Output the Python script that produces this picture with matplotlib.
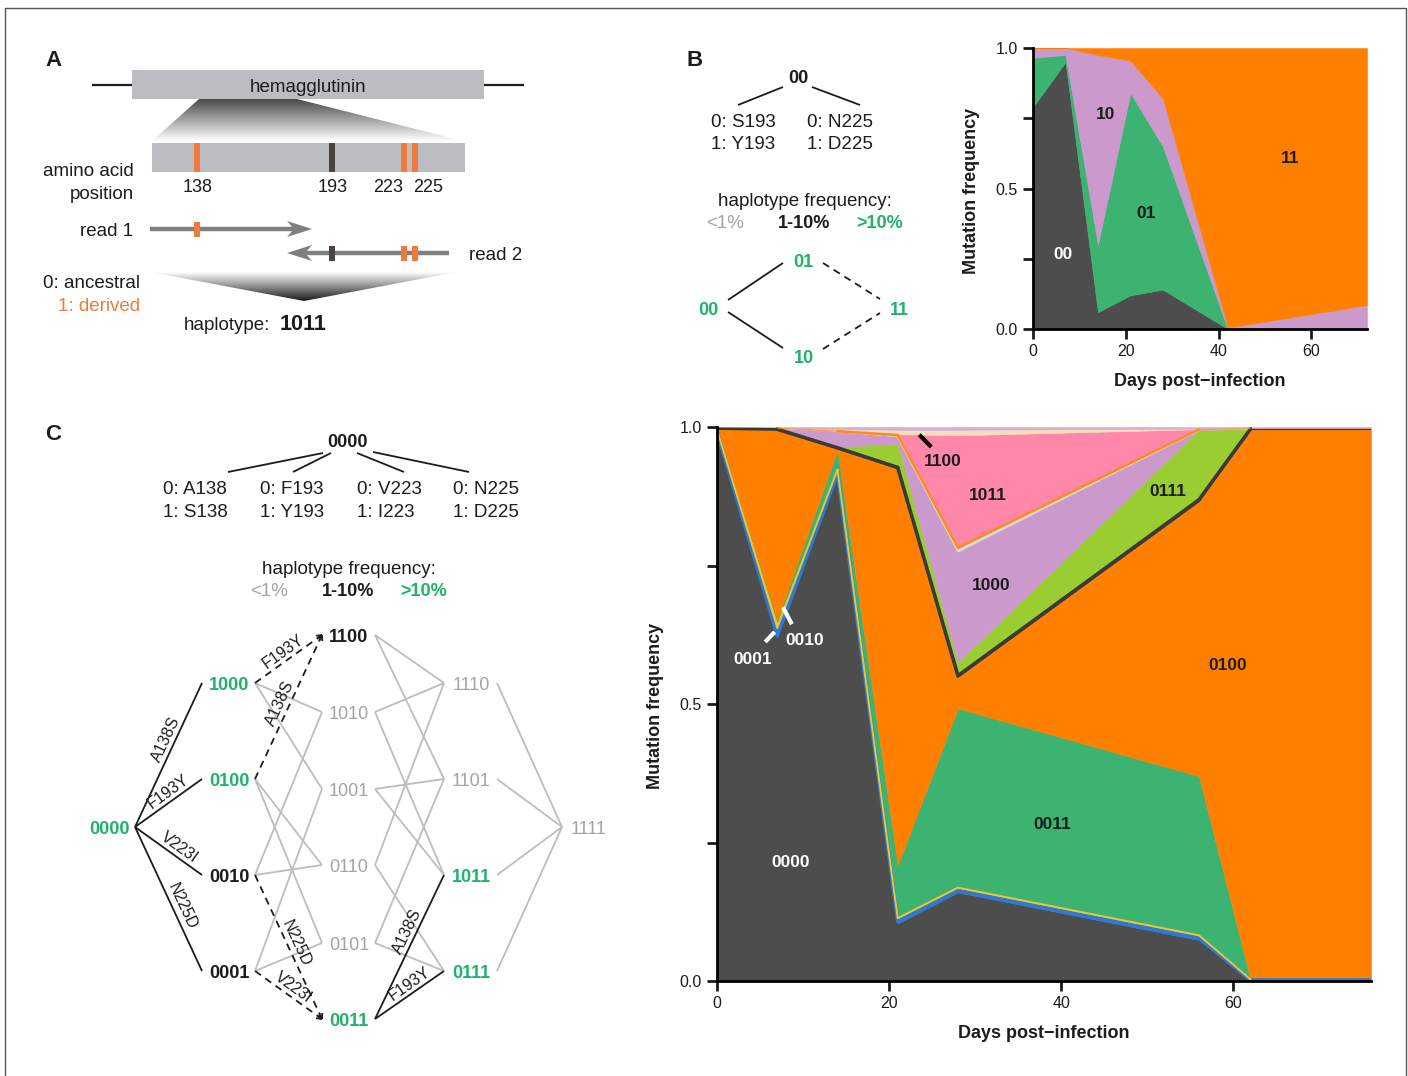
import numpy as np
import matplotlib
matplotlib.use("Agg")
import matplotlib.pyplot as plt
from matplotlib.patches import Rectangle, Polygon
from matplotlib.colors import LinearSegmentedColormap

plt.rcParams["font.family"] = ["Liberation Sans", "DejaVu Sans"]

INK = "#1c1c1c"
GREEN = "#20b26b"
FAINT = "#a3a3a3"
EDGE_GRAY = "#bdbdbd"
ORANGE_A = "#f07a3c"
BOXGRAY = "#bcbdc0"

# ---- panel B: two-site haplotype frequencies ----
days_b = [0, 7, 14, 21, 28, 42, 72]
b_00 = [0.79, 0.95, 0.06, 0.12, 0.14, 0.0, 0.0]
b_01 = [0.175, 0.026, 0.24, 0.72, 0.51, 0.0, 0.0]
b_10 = [0.035, 0.024, 0.675, 0.115, 0.17, 0.005, 0.085]
b_11 = [0.0, 0.0, 0.025, 0.045, 0.18, 0.995, 0.915]
haps_b = ["00", "01", "10", "11"]
cols_b = ["#4d4d4d", "#3cb371", "#cc99cc", "#ff8000"]

# ---- panel C: four-site haplotype frequencies ----
days_c = [0, 7, 14, 21, 28, 56, 62, 76]
c_0000 = [0.990, 0.620, 0.912, 0.104, 0.160, 0.074, 0.000, 0.000]
c_0001 = [0.004, 0.008, 0.008, 0.008, 0.007, 0.007, 0.003, 0.003]
c_0010 = [0.002, 0.020, 0.006, 0.003, 0.003, 0.003, 0.000, 0.000]
c_0011 = [0.000, 0.004, 0.032, 0.094, 0.322, 0.286, 0.000, 0.000]
c_0100 = [0.000, 0.343, 0.003, 0.716, 0.057, 0.496, 0.993, 0.993]
c_0101 = [0.002, 0.002, 0.003, 0.004, 0.004, 0.005, 0.001, 0.001]
c_0111 = [0.000, 0.000, 0.000, 0.041, 0.022, 0.124, 0.000, 0.000]
c_1000 = [0.000, 0.001, 0.028, 0.013, 0.200, 0.000, 0.000, 0.000]
c_1001 = [0.000, 0.000, 0.000, 0.001, 0.004, 0.000, 0.000, 0.000]
c_1010 = [0.000, 0.000, 0.001, 0.003, 0.006, 0.001, 0.000, 0.000]
c_1011 = [0.000, 0.000, 0.000, 0.000, 0.200, 0.000, 0.000, 0.000]
c_1100 = [0.000, 0.000, 0.003, 0.008, 0.010, 0.001, 0.000, 0.000]
c_1111 = [0.002, 0.002, 0.004, 0.005, 0.005, 0.003, 0.003, 0.003]
haps_c = ["0000", "0001", "0010", "0011", "0100", "0101", "0111", "1000",
          "1001", "1010", "1011", "1100", "1111"]
freqs_c = [c_0000, c_0001, c_0010, c_0011, c_0100, c_0101, c_0111, c_1000,
           c_1001, c_1010, c_1011, c_1100, c_1111]
cols_c = ["#4d4d4d", "#2b7bd6", "#f2c230", "#3cb371", "#ff8000", "#3a3a3a",
          "#9acd32", "#cc99cc", "#d9d9d9", "#ff8c1a", "#ff88aa", "#f5dfb8", "#d4aed4"]
# minor haplotypes drawn as lines along their band
trace_lw = {"0001": 2.6, "0010": 1.4, "0101": 2.6, "1001": 1.8, "1010": 1.8}

# network panel C
mutations = ["A138S", "F193Y", "V223I", "N225D"]
levels = [["0000"], ["1000", "0100", "0010", "0001"],
          ["1100", "1010", "1001", "0110", "0101", "0011"],
          ["1110", "1101", "1011", "0111"], ["1111"]]
freq_class = {"0000": "hi", "1000": "hi", "0100": "hi", "0011": "hi", "1011": "hi", "0111": "hi",
              "0010": "mid", "0001": "mid", "1100": "mid"}
dashed_edges = [("1000", "1100"), ("0100", "1100"), ("0010", "0011"), ("0001", "0011")]
solid_edges = [("0011", "1011"), ("0011", "0111")]

fig = plt.figure(figsize=(14.08, 10.76), dpi=100)
ov = fig.add_axes([0, 0, 1, 1])
ov.axis("off")


def label(x, y, s, size=13.5, color=INK, weight="normal", ha="center", **kw):
    # small downward nudge so digits sit on the visual centre
    ov.text(x, y + 2.5, s, fontsize=size, color=color, fontweight=weight, ha=ha, va="center", **kw)


def seg(p, q, color=INK, lw=1.3, ls="-"):
    ov.plot([p[0], q[0]], [p[1], q[1]], color=color, lw=lw, ls=ls, solid_capstyle="butt")


def chevron(p, q, size=6, spread=28):
    ang = np.arctan2(q[1] - p[1], q[0] - p[0])
    for s in (1, -1):
        a = ang + np.pi + s * np.radians(spread)
        seg(q, (q[0] + size * np.cos(a), q[1] + size * np.sin(a)))


def edge_text(p, q, s, frac=0.55, off=9):
    dx, dy = q[0] - p[0], q[1] - p[1]
    L = np.hypot(dx, dy)
    nx, ny = dy / L, -dx / L
    ang = np.degrees(np.arctan2(-dy, dx))
    ov.text(p[0] + frac * dx + off * nx, p[1] + frac * dy + off * ny, s, fontsize=11.5,
            color=INK, rotation=ang, rotation_mode="anchor", ha="center", va="center")


def gradient(pts, y_from, y_to, c_from, c_to):
    cmap = LinearSegmentedColormap.from_list("g", [c_from, c_to])
    xs = [p[0] for p in pts]
    im = ov.imshow(np.linspace(0, 1, 256).reshape(-1, 1), cmap=cmap, origin="lower",
                   extent=(min(xs), max(xs), y_from, y_to), aspect="auto", zorder=1)
    clip = Polygon(pts, closed=True, facecolor="none", edgecolor="none", transform=ov.transData)
    ov.add_patch(clip)
    im.set_clip_path(clip)


# outer frame
ov.add_patch(Rectangle((5, 8), 1401, 1075, facecolor="none", edgecolor="#555555", lw=1))

# ---------------- panel A ----------------
label(45, 58, "A", size=16, weight="bold", ha="left")
seg((92, 85), (132, 85), lw=1.6)
seg((484, 85), (524, 85), lw=1.6)
ov.add_patch(Rectangle((132, 70), 352, 29, facecolor=BOXGRAY, edgecolor="none"))
label(308, 85, "hemagglutinin")
gradient([(199, 99), (297, 99), (463, 141), (152, 141)], 99, 141, "#4a4a4a", "#ffffff")
ov.add_patch(Rectangle((152, 143), 313, 29, facecolor=BOXGRAY, edgecolor="none"))
site_x = {"138": 197, "193": 332, "223": 404, "225": 415}
site_col = {"138": ORANGE_A, "193": "#4a4541", "223": ORANGE_A, "225": ORANGE_A}
for s, x in site_x.items():
    ov.add_patch(Rectangle((x - 3, 143), 6, 29, facecolor=site_col[s], edgecolor="none", zorder=3))
for s, x in zip(["138", "193", "223", "225"], [198, 333, 388, 428]):
    label(x, 185, s, size=13)
label(134, 169, "amino acid", ha="right")
label(134, 192, "position", ha="right")

label(133, 229, "read 1", ha="right")
seg((150, 229), (300, 229), color="#7f7f7f", lw=3.2)
ov.add_patch(Polygon([(312, 229), (287, 221), (294, 229), (287, 237)], facecolor="#7f7f7f", edgecolor="none"))
ov.add_patch(Rectangle((194, 222), 6, 15, facecolor=ORANGE_A, edgecolor="none", zorder=3))

label(469, 253, "read 2", ha="left")
seg((300, 253), (449, 253), color="#7f7f7f", lw=3.2)
ov.add_patch(Polygon([(287, 253), (312, 245), (305, 253), (312, 261)], facecolor="#7f7f7f", edgecolor="none"))
for s in ["193", "223", "225"]:
    ov.add_patch(Rectangle((site_x[s] - 3, 246), 6, 15, facecolor=site_col[s], edgecolor="none", zorder=3))

label(140, 281, "0: ancestral", ha="right")
label(140, 304, "1: derived", ha="right", color=ORANGE_A)
gradient([(150, 272), (457, 272), (304, 301)], 272, 301, "#ffffff", "#1a1a1a")
label(184, 323, "haplotype:", ha="left")
label(280, 322, "1011", ha="left", size=15.5, weight="bold")

# ---------------- panel B schematic ----------------
label(686, 58, "B", size=16, weight="bold", ha="left")
label(798, 76, "00", size=13, weight="bold")
seg((738, 105), (783, 87))
seg((812, 87), (860, 105))
label(711, 120, "0: S193", ha="left")
label(711, 142, "1: Y193", ha="left")
label(807, 120, "0: N225", ha="left")
label(807, 142, "1: D225", ha="left")
label(805, 199, "haplotype frequency:")
label(725, 221, "<1%", color=FAINT)
label(804, 221, "1-10%", weight="bold", size=13)
label(880, 221, ">10%", weight="bold", size=13, color=GREEN)
for s, (x, y) in zip(["01", "00", "11", "10"], [(803, 260), (708, 308), (899, 308), (804, 356)]):
    label(x, y, s, size=13, weight="bold", color=GREEN)
seg((728, 300), (783, 263))
seg((728, 312), (783, 348))
seg((823, 263), (880, 299), ls=(0, (4, 3)))
seg((823, 349), (880, 313), ls=(0, (4, 3)))

# ---------------- panel C schematic ----------------
label(45, 432, "C", size=16, weight="bold", ha="left")
label(348, 440, "0000", size=13, weight="bold")
seg((228, 472), (323, 453))
seg((293, 472), (331, 453))
seg((357, 453), (404, 472))
seg((373, 452), (469, 472))
for x, site, a0, a1 in zip([163, 260, 357, 453], ["138", "193", "223", "225"],
                           ["A", "F", "V", "N"], ["S", "Y", "I", "D"]):
    label(x, 487, "0: %s%s" % (a0, site), ha="left")
    label(x, 510, "1: %s%s" % (a1, site), ha="left")
label(349, 567, "haplotype frequency:")
label(269, 589, "<1%", color=FAINT)
label(348, 589, "1-10%", weight="bold", size=13)
label(424, 589, ">10%", weight="bold", size=13, color=GREEN)

level_x = [109, 229, 349, 471, 589]
level_y = [[828], [684, 780, 876, 972], [636, 713, 790, 866, 944, 1020],
           [684, 780, 876, 972], [828]]
pos = {}
for k, names in enumerate(levels):
    for n, y in zip(names, level_y[k]):
        pos[n] = (level_x[k], y)


def right_pt(n):
    return (pos[n][0] + 26, pos[n][1] - 1)


def left_pt(n):
    return (pos[n][0] - 27, pos[n][1] - 1)


edges = []
for k in range(len(levels) - 1):
    for a in levels[k]:
        for b in levels[k + 1]:
            diff = [i for i in range(4) if a[i] != b[i]]
            if len(diff) == 1:
                edges.append((a, b, diff[0]))
# gray first, black on top
for a, b, bit in edges:
    if a != "0000" and (a, b) not in dashed_edges and (a, b) not in solid_edges:
        seg(right_pt(a), left_pt(b), color=EDGE_GRAY, lw=1.3)
for a, b, bit in edges:
    p, q = right_pt(a), left_pt(b)
    if (a, b) in dashed_edges:
        seg(p, q, ls=(0, (4, 3)))
        chevron(p, q)
        edge_text(p, q, mutations[bit], frac=0.5)
    elif a == "0000" or (a, b) in solid_edges:
        seg(p, q)
        edge_text(p, q, mutations[bit], frac=0.58)
for n, (x, y) in pos.items():
    cls = freq_class.get(n, "lo")
    if cls == "hi":
        label(x, y - 1, n, size=13, weight="bold", color=GREEN)
    elif cls == "mid":
        label(x, y - 1, n, size=13, weight="bold", color=INK)
    else:
        label(x, y - 1, n, size=13, color=FAINT)

ov.set_xlim(0, 1408)
ov.set_ylim(1076, 0)


# ---------------- stacked area axes ----------------
def style_axes(ax, xmax):
    ax.set_xlim(0, xmax)
    ax.set_ylim(0, 1)
    for s in ["top", "right"]:
        ax.spines[s].set_visible(False)
    for s in ["left", "bottom"]:
        ax.spines[s].set_linewidth(2)
        ax.spines[s].set_color("black")
    ax.set_xticks([0, 20, 40, 60])
    ax.set_yticks([0, 0.25, 0.5, 0.75, 1.0])
    ax.set_yticklabels(["0.0", "", "0.5", "", "1.0"])
    ax.tick_params(width=2, length=7, labelsize=11.5, pad=4, colors=INK)
    ax.set_facecolor("none")


axb = fig.add_axes([1033 / 1408, 1 - 329 / 1076, 334 / 1408, 281 / 1076])
base = np.zeros(len(days_b))
for vals, col in zip([b_00, b_01, b_10, b_11], cols_b):
    top = base + np.array(vals)
    axb.fill_between(days_b, base, top, facecolor=col, edgecolor=col, lw=0.4)
    base = top
style_axes(axb, 72)
for s, (x, y), c in zip(haps_b, [(6.5, 0.265), (24.4, 0.41), (15.7, 0.765), (55.4, 0.605)],
                        ["white", INK, INK, INK]):
    axb.text(x, y, s, fontsize=12.5, fontweight="bold", color=c, ha="center", va="center")

axc = fig.add_axes([717 / 1408, 1 - 981 / 1076, 654 / 1408, 554 / 1076])
base = np.zeros(len(days_c))
traces = []
for name, vals, col in zip(haps_c, freqs_c, cols_c):
    v = np.array(vals)
    top = base + v
    axc.fill_between(days_c, base, top, facecolor=col, edgecolor=col, lw=0.4)
    if name in trace_lw:
        traces.append((v, (base + top) / 2, col, trace_lw[name]))
    base = top
for v, mid, col, lw in traces:
    for i in range(len(days_c) - 1):
        m = max(v[i], v[i + 1])
        if m > 0:
            axc.plot(days_c[i:i + 2], mid[i:i + 2], color=col,
                     lw=lw * min(1.0, m / 0.003), solid_capstyle="round")
style_axes(axc, 76)

c_text = [("0000", 8.5, 0.213, "white"), ("0001", 4.2, 0.58, "white"), ("0010", 10.2, 0.614, "white"),
          ("0011", 39.0, 0.282, INK), ("0100", 59.4, 0.569, INK), ("0111", 52.4, 0.883, INK),
          ("1000", 31.9, 0.713, INK), ("1011", 31.5, 0.876, INK), ("1100", 26.2, 0.937, INK)]
for s, x, y, c in c_text:
    axc.text(x, y, s, fontsize=12.5, fontweight="bold", color=c, ha="center", va="center")
axc.plot([5.6, 6.7], [0.612, 0.630], color="white", lw=3, solid_capstyle="butt")
axc.plot([7.65, 8.7], [0.675, 0.644], color="white", lw=3, solid_capstyle="butt")
axc.plot([23.5, 24.9], [0.986, 0.964], color="black", lw=3, solid_capstyle="butt")

# axis titles (placed in figure pixels)
label(971, 188, "Mutation frequency", size=13, weight="bold", rotation=90)
label(1200, 379, "Days post\u2212infection", size=13, weight="bold")
label(655, 703, "Mutation frequency", size=13, weight="bold", rotation=90)
label(1044, 1031, "Days post\u2212infection", size=13, weight="bold")

fig.savefig("out.png", dpi=100)
